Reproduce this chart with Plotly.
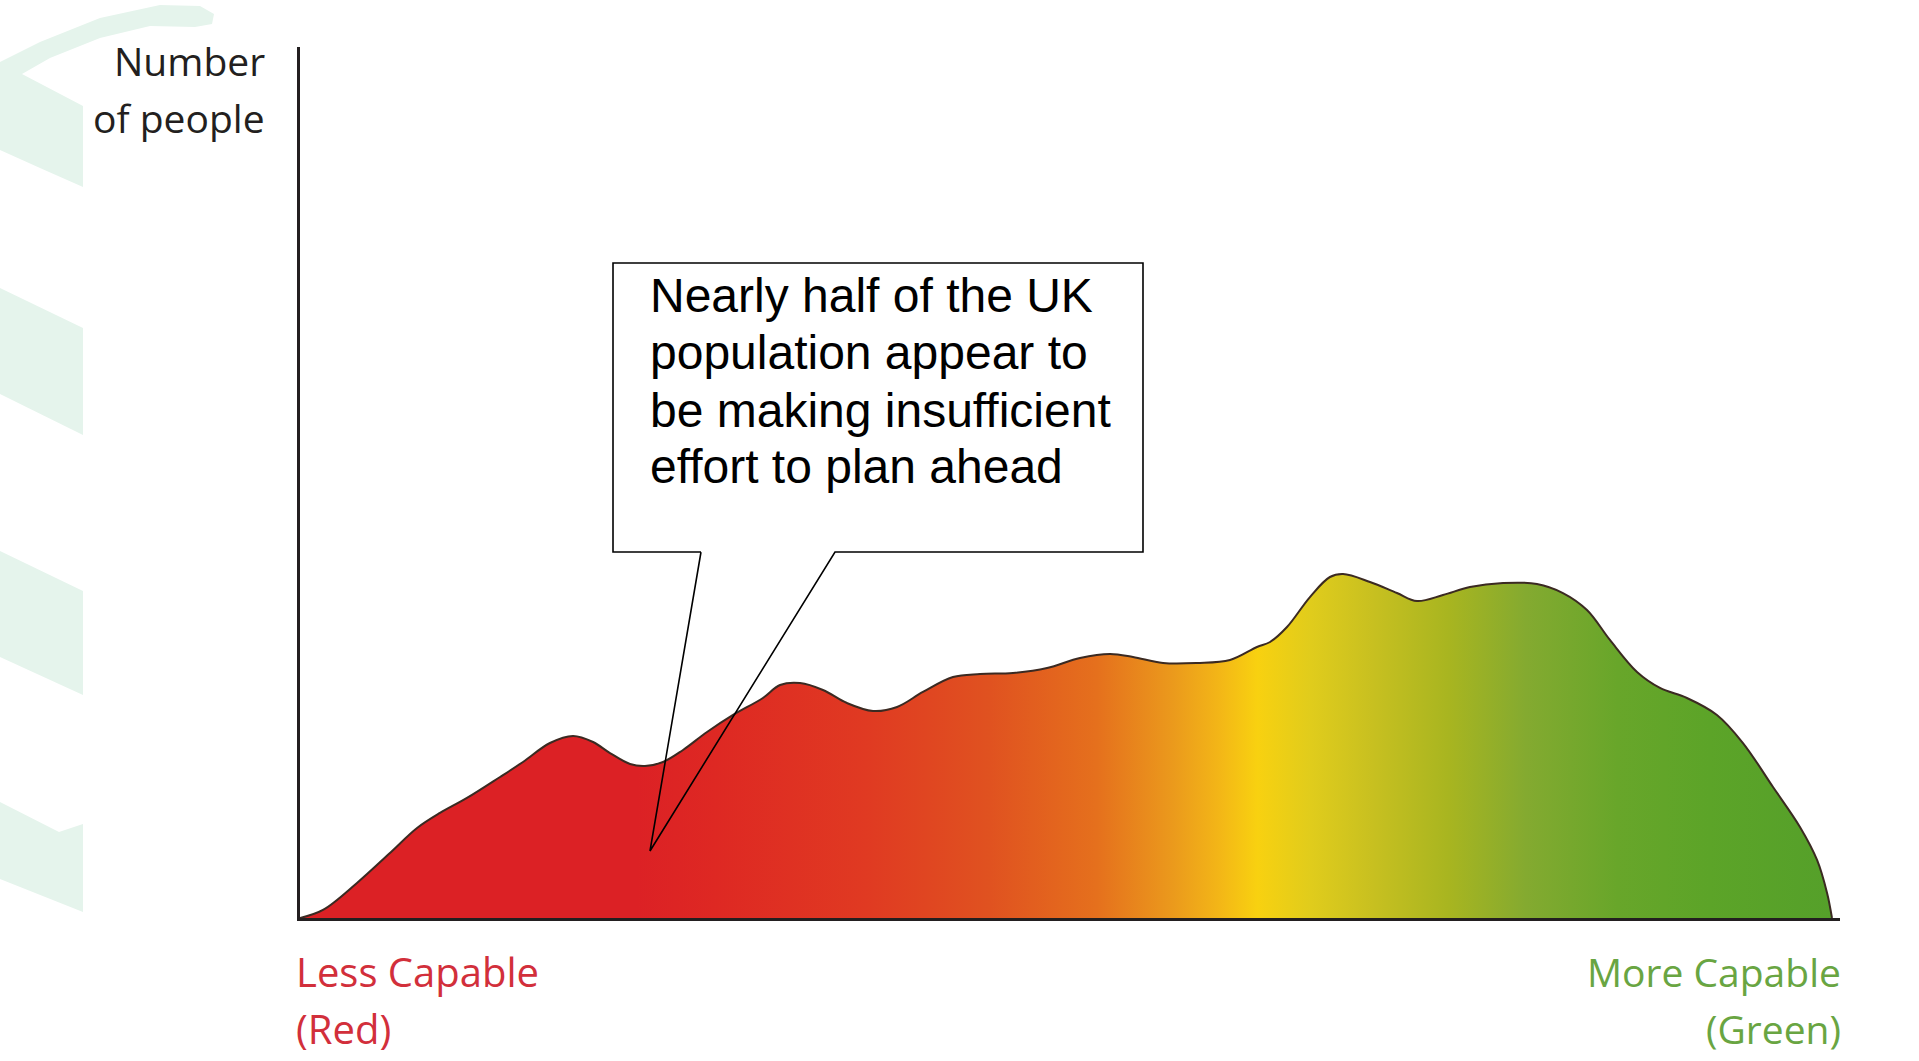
import plotly.graph_objects as go

# ---------------- data ----------------
capability = [0.0, 1.49, 3.70, 5.84, 7.60, 9.09, 10.84, 12.99, 14.48, 16.23, 17.73, 19.03,
              20.13, 21.43, 22.40, 23.57, 24.87, 26.43, 28.12, 30.06, 31.17, 32.47, 33.96,
              35.52, 37.21, 38.77, 40.45, 42.40, 44.16, 46.30, 48.51, 50.65, 52.60, 54.09,
              56.04, 58.25, 60.39, 62.14, 62.99, 64.09, 65.58, 66.88, 67.73, 69.48, 71.23,
              72.53, 74.22, 75.97, 78.12, 80.32, 82.01, 83.57, 85.06, 86.82, 88.31, 90.06,
              92.01, 93.70, 95.65, 97.40, 98.51, 99.16, 99.48]
people = [0.0, 0.92, 4.02, 7.46, 10.33, 12.06, 13.78, 16.19, 17.91, 20.09, 20.90, 20.21,
          18.94, 17.68, 17.45, 17.91, 19.29, 21.35, 23.31, 25.26, 26.75, 26.98, 26.18,
          24.68, 23.77, 24.23, 25.95, 27.67, 28.01, 28.13, 28.70, 29.85, 30.31, 29.97,
          29.28, 29.28, 29.62, 31.11, 31.69, 33.41, 36.85, 39.15, 39.49, 38.58, 37.31,
          36.39, 37.08, 38.00, 38.46, 38.35, 37.31, 35.36, 31.92, 28.24, 26.41, 25.26,
          23.31, 20.09, 15.04, 10.45, 6.66, 2.87, 0.0]

y_label_lines = ["Number", "of people"]
left_label_lines = ["Less Capable", "(Red)"]
right_label_lines = ["More Capable", "(Green)"]
callout_lines = ["Nearly half of the UK", "population appear to",
                 "be making insufficient", "effort to plan ahead"]

gradient = [[0.00, "#dc2125"], [0.22, "#dc2125"], [0.27, "#de2823"], [0.37, "#e03a22"],
            [0.45, "#e05220"], [0.52, "#e5701d"], [0.57, "#eb9a1c"], [0.60, "#f3b617"],
            [0.625, "#f8d110"], [0.66, "#e0cc1c"], [0.70, "#c8c020"], [0.75, "#a8b520"],
            [0.80, "#84aa30"], [0.86, "#68a62a"], [0.92, "#5ca428"], [1.00, "#55a02a"]]

# ---------------- layout geometry (pixels) ----------------
W, H = 1919, 1061
L, R, T, B = 300, 1840, 47, 918


def px(x):
    return (x - L) / (R - L)


def py(y):
    return (B - y) / (B - T)


fig = go.Figure()
fig.add_trace(go.Scatter(
    x=capability, y=people, mode="lines",
    line=dict(color="#3b2a22", width=2, shape="spline", smoothing=1.0),
    fill="tozeroy",
    fillgradient=dict(type="horizontal", colorscale=gradient),
    hoverinfo="skip", showlegend=False,
))

shapes = []
mint = "#e5f4ec"
deco = [
    [(0, 62), (40, 42), (100, 18), (160, 5), (200, 6), (214, 14), (212, 24), (195, 27),
     (150, 26), (100, 38), (50, 58), (22, 74), (83, 106), (83, 187), (40, 168), (0, 150)],
    [(0, 288), (83, 328), (83, 435), (0, 394)],
    [(0, 551), (83, 591), (83, 695), (0, 657)],
    [(0, 802), (59, 832), (83, 824), (83, 912), (0, 879)],
]
for poly in deco:
    path = "M " + " L ".join(f"{px(a):.5f},{py(b):.5f}" for a, b in poly) + " Z"
    shapes.append(dict(type="path", path=path, xref="paper", yref="paper",
                       fillcolor=mint, line=dict(width=0), layer="below"))

# callout box with pointer
box = [(701, 552), (613, 552), (613, 263), (1143, 263), (1143, 552), (835, 552), (650, 851), (701, 552)]
path = "M " + " L ".join(f"{px(a):.5f},{py(b):.5f}" for a, b in box)
shapes.append(dict(type="path", path=path, xref="paper", yref="paper",
                   fillcolor="rgba(0,0,0,0)", line=dict(color="#000000", width=1.6),
                   layer="above"))

annotations = []
lab_font = "Open Sans, Noto Sans, sans-serif"
for txt, yc in zip(y_label_lines, [60, 118]):
    annotations.append(dict(text=txt, xref="paper", yref="paper", x=px(267), y=py(yc),
                            xanchor="right", yanchor="middle", showarrow=False,
                            font=dict(family=lab_font, size=39, color="#231f20")))
for txt, yc in zip(left_label_lines, [972, 1028]):
    annotations.append(dict(text=txt, xref="paper", yref="paper", x=px(294), y=py(yc),
                            xanchor="left", yanchor="middle", showarrow=False,
                            font=dict(family=lab_font, size=40, color="#d22f3b")))
for txt, yc in zip(right_label_lines, [972, 1028]):
    annotations.append(dict(text=txt, xref="paper", yref="paper", x=px(1843), y=py(yc),
                            xanchor="right", yanchor="middle", showarrow=False,
                            font=dict(family=lab_font, size=39, color="#69a542")))
for txt, yc in zip(callout_lines, [295, 352, 410, 467]):
    annotations.append(dict(text=txt, xref="paper", yref="paper", x=px(648), y=py(yc),
                            xanchor="left", yanchor="middle", showarrow=False,
                            font=dict(family="Liberation Sans, Arial, sans-serif", size=48,
                                      color="#000000")))

axis_common = dict(showgrid=False, zeroline=False, showticklabels=False, ticks="",
                   showline=True, linecolor="#231f20", linewidth=3, fixedrange=True)
fig.update_layout(
    width=W, height=H,
    margin=dict(l=L, r=W - R, t=T, b=H - B, pad=0),
    paper_bgcolor="white", plot_bgcolor="rgba(0,0,0,0)",
    xaxis=dict(range=[0, 100], **axis_common),
    yaxis=dict(range=[0, 100], **axis_common),
    shapes=shapes, annotations=annotations,
    showlegend=False,
)

fig.write_html("out.html", config={"displayModeBar": False, "staticPlot": True})
